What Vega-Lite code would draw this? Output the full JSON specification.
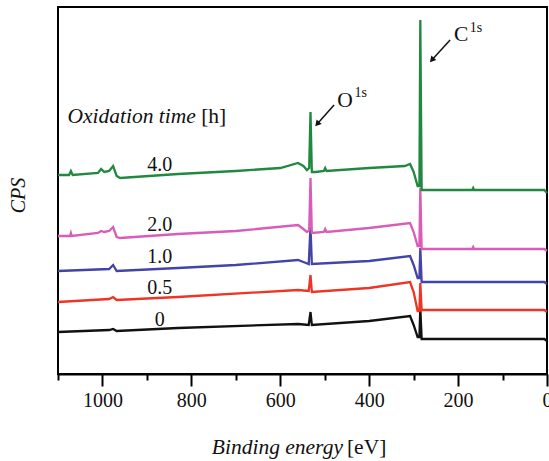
{
  "$schema": "https://vega.github.io/schema/vega-lite/v6.json",
  "autosize": "none",
  "width": 489,
  "height": 367,
  "padding": {"left": 58, "top": 7, "right": 2, "bottom": 87},
  "config": {
    "view": {"stroke": "black", "strokeWidth": 2},
    "text": {"font": "Liberation Serif", "fontSize": 20, "color": "#111"}
  },
  "datasets": {
    "spectra": [
      {"t": "0", "e": 1100, "c": 42}, {"t": "0", "e": 985, "c": 44}, {"t": "0", "e": 976, "c": 45}, {"t": "0", "e": 968, "c": 43}, {"t": "0", "e": 830, "c": 46}, {"t": "0", "e": 560, "c": 50}, {"t": "0", "e": 536, "c": 49}, {"t": "0", "e": 532, "c": 62}, {"t": "0", "e": 529, "c": 49}, {"t": "0", "e": 400, "c": 53}, {"t": "0", "e": 308, "c": 58}, {"t": "0", "e": 300, "c": 49}, {"t": "0", "e": 291, "c": 37}, {"t": "0", "e": 287, "c": 37}, {"t": "0", "e": 285, "c": 66}, {"t": "0", "e": 282, "c": 35}, {"t": "0", "e": 6, "c": 35}, {"t": "0", "e": 0, "c": 33},
      {"t": "0.5", "e": 1100, "c": 72}, {"t": "0.5", "e": 985, "c": 75}, {"t": "0.5", "e": 976, "c": 77}, {"t": "0.5", "e": 968, "c": 74}, {"t": "0.5", "e": 830, "c": 77}, {"t": "0.5", "e": 560, "c": 84}, {"t": "0.5", "e": 536, "c": 83}, {"t": "0.5", "e": 532, "c": 99}, {"t": "0.5", "e": 529, "c": 82}, {"t": "0.5", "e": 400, "c": 86}, {"t": "0.5", "e": 308, "c": 92}, {"t": "0.5", "e": 300, "c": 82}, {"t": "0.5", "e": 291, "c": 63}, {"t": "0.5", "e": 287, "c": 63}, {"t": "0.5", "e": 285, "c": 91}, {"t": "0.5", "e": 282, "c": 64}, {"t": "0.5", "e": 6, "c": 64}, {"t": "0.5", "e": 0, "c": 62},
      {"t": "1.0", "e": 1100, "c": 103}, {"t": "1.0", "e": 985, "c": 105}, {"t": "1.0", "e": 976, "c": 109}, {"t": "1.0", "e": 968, "c": 103}, {"t": "1.0", "e": 830, "c": 106}, {"t": "1.0", "e": 700, "c": 109}, {"t": "1.0", "e": 560, "c": 114}, {"t": "1.0", "e": 548, "c": 112}, {"t": "1.0", "e": 536, "c": 110}, {"t": "1.0", "e": 532, "c": 147}, {"t": "1.0", "e": 529, "c": 110}, {"t": "1.0", "e": 400, "c": 113}, {"t": "1.0", "e": 308, "c": 118}, {"t": "1.0", "e": 300, "c": 109}, {"t": "1.0", "e": 291, "c": 96}, {"t": "1.0", "e": 287, "c": 96}, {"t": "1.0", "e": 285, "c": 126}, {"t": "1.0", "e": 282, "c": 92}, {"t": "1.0", "e": 6, "c": 92}, {"t": "1.0", "e": 0, "c": 90},
      {"t": "2.0", "e": 1100, "c": 138}, {"t": "2.0", "e": 1073, "c": 138}, {"t": "2.0", "e": 1071, "c": 141}, {"t": "2.0", "e": 1069, "c": 138}, {"t": "2.0", "e": 1010, "c": 141}, {"t": "2.0", "e": 1003, "c": 143}, {"t": "2.0", "e": 996, "c": 142}, {"t": "2.0", "e": 985, "c": 143}, {"t": "2.0", "e": 976, "c": 147}, {"t": "2.0", "e": 968, "c": 137}, {"t": "2.0", "e": 960, "c": 136}, {"t": "2.0", "e": 830, "c": 140}, {"t": "2.0", "e": 700, "c": 143}, {"t": "2.0", "e": 560, "c": 149}, {"t": "2.0", "e": 548, "c": 145}, {"t": "2.0", "e": 540, "c": 142}, {"t": "2.0", "e": 535, "c": 144}, {"t": "2.0", "e": 532, "c": 196}, {"t": "2.0", "e": 529, "c": 141}, {"t": "2.0", "e": 502, "c": 142}, {"t": "2.0", "e": 499, "c": 145}, {"t": "2.0", "e": 496, "c": 142}, {"t": "2.0", "e": 400, "c": 146}, {"t": "2.0", "e": 308, "c": 151}, {"t": "2.0", "e": 300, "c": 142}, {"t": "2.0", "e": 291, "c": 128}, {"t": "2.0", "e": 287, "c": 128}, {"t": "2.0", "e": 285, "c": 186}, {"t": "2.0", "e": 282, "c": 125}, {"t": "2.0", "e": 200, "c": 125}, {"t": "2.0", "e": 168, "c": 125}, {"t": "2.0", "e": 166, "c": 127}, {"t": "2.0", "e": 164, "c": 125}, {"t": "2.0", "e": 6, "c": 125}, {"t": "2.0", "e": 0, "c": 123},
      {"t": "4.0", "e": 1100, "c": 199}, {"t": "4.0", "e": 1075, "c": 199}, {"t": "4.0", "e": 1071, "c": 203}, {"t": "4.0", "e": 1067, "c": 199}, {"t": "4.0", "e": 1010, "c": 201}, {"t": "4.0", "e": 1003, "c": 205}, {"t": "4.0", "e": 996, "c": 202}, {"t": "4.0", "e": 985, "c": 203}, {"t": "4.0", "e": 976, "c": 208}, {"t": "4.0", "e": 968, "c": 198}, {"t": "4.0", "e": 960, "c": 196}, {"t": "4.0", "e": 830, "c": 200}, {"t": "4.0", "e": 700, "c": 203}, {"t": "4.0", "e": 600, "c": 206}, {"t": "4.0", "e": 560, "c": 211}, {"t": "4.0", "e": 548, "c": 208}, {"t": "4.0", "e": 540, "c": 204}, {"t": "4.0", "e": 535, "c": 206}, {"t": "4.0", "e": 532, "c": 262}, {"t": "4.0", "e": 529, "c": 202}, {"t": "4.0", "e": 520, "c": 202}, {"t": "4.0", "e": 502, "c": 203}, {"t": "4.0", "e": 499, "c": 206}, {"t": "4.0", "e": 496, "c": 203}, {"t": "4.0", "e": 400, "c": 206}, {"t": "4.0", "e": 320, "c": 208}, {"t": "4.0", "e": 308, "c": 210}, {"t": "4.0", "e": 300, "c": 202}, {"t": "4.0", "e": 291, "c": 188}, {"t": "4.0", "e": 287, "c": 188}, {"t": "4.0", "e": 285, "c": 354}, {"t": "4.0", "e": 282, "c": 184}, {"t": "4.0", "e": 200, "c": 184}, {"t": "4.0", "e": 168, "c": 184}, {"t": "4.0", "e": 166, "c": 186}, {"t": "4.0", "e": 164, "c": 184}, {"t": "4.0", "e": 20, "c": 184}, {"t": "4.0", "e": 6, "c": 184}, {"t": "4.0", "e": 0, "c": 181}
    ],
    "labels": [
      {"lab": "4.0", "e": 871, "c": 209},
      {"lab": "2.0", "e": 871, "c": 149},
      {"lab": "1.0", "e": 871, "c": 117},
      {"lab": "0.5", "e": 871, "c": 86},
      {"lab": "0", "e": 871, "c": 54}
    ],
    "italicText": [
      {"txt": "Oxidation time", "e": 790, "c": 257},
      {"txt": "Binding energy", "e": 459, "c": -74}
    ],
    "plainText": [
      {"txt": "[h]", "e": 778, "c": 257},
      {"txt": "[eV]", "e": 450, "c": -74},
      {"txt": "O", "e": 472, "c": 273},
      {"txt": "C", "e": 209, "c": 339}
    ],
    "supText": [
      {"txt": "1s", "e": 433, "c": 281},
      {"txt": "1s", "e": 174, "c": 346}
    ],
    "arrows": [
      {"e": 479, "c": 269, "e2": 517, "c2": 250},
      {"e": 218, "c": 334, "e2": 259, "c2": 314}
    ]
  },
  "layer": [
    {
      "data": {"name": "spectra"},
      "mark": {"type": "line", "strokeWidth": 2.3, "interpolate": "linear"},
      "encoding": {
        "x": {
          "field": "e", "type": "quantitative",
          "scale": {"domain": [0, 1100], "reverse": true, "nice": false, "zero": false},
          "axis": {
            "title": null,
            "values": [1100, 1000, 900, 800, 700, 600, 500, 400, 300, 200, 100, 0],
            "format": "d",
            "labelExpr": "datum.value % 200 == 0 ? datum.label : ''",
            "tickSize": {"condition": {"test": "datum.value % 200 == 0", "value": 12}, "value": 6},
            "tickWidth": 2,
            "tickColor": "black",
            "domainColor": "black",
            "domainWidth": 2,
            "grid": false,
            "labelFont": "Liberation Serif",
            "labelFontSize": 20,
            "labelColor": "#111",
            "labelPadding": 4,
            "labelFlush": false,
            "labelOverlap": false
          }
        },
        "y": {
          "field": "c", "type": "quantitative",
          "scale": {"domain": [0, 367], "nice": false, "zero": false},
          "axis": {
            "title": "CPS",
            "labels": false, "ticks": false, "grid": false, "domain": false,
            "titleFont": "Liberation Serif", "titleFontStyle": "italic", "titleFontWeight": "normal",
            "titleFontSize": 20, "titleColor": "#111",
            "titleBaseline": "middle", "titleAlign": "center",
            "titleX": -40, "titleY": 188, "titleAngle": -90
          }
        },
        "color": {
          "field": "t", "type": "nominal",
          "scale": {"domain": ["0", "0.5", "1.0", "2.0", "4.0"], "range": ["#111111", "#ee3524", "#4343a8", "#d95cb8", "#21893f"]},
          "legend": null
        },
        "order": {"field": "e", "sort": "descending"}
      }
    },
    {
      "data": {"name": "labels"},
      "mark": {"type": "text", "align": "center", "baseline": "middle"},
      "encoding": {
        "x": {"field": "e", "type": "quantitative"},
        "y": {"field": "c", "type": "quantitative"},
        "text": {"field": "lab"}
      }
    },
    {
      "data": {"name": "italicText"},
      "mark": {"type": "text", "align": "right", "baseline": "middle", "fontStyle": "italic", "fontSize": 21.5},
      "encoding": {
        "x": {"field": "e", "type": "quantitative"},
        "y": {"field": "c", "type": "quantitative"},
        "text": {"field": "txt"}
      }
    },
    {
      "data": {"name": "plainText"},
      "mark": {"type": "text", "align": "left", "baseline": "middle", "fontSize": 21.5},
      "encoding": {
        "x": {"field": "e", "type": "quantitative"},
        "y": {"field": "c", "type": "quantitative"},
        "text": {"field": "txt"}
      }
    },
    {
      "data": {"name": "supText"},
      "mark": {"type": "text", "align": "left", "baseline": "middle", "fontSize": 14},
      "encoding": {
        "x": {"field": "e", "type": "quantitative"},
        "y": {"field": "c", "type": "quantitative"},
        "text": {"field": "txt"}
      }
    },
    {
      "data": {"name": "arrows"},
      "mark": {"type": "rule", "strokeWidth": 1.5, "color": "#111"},
      "encoding": {
        "x": {"field": "e", "type": "quantitative"},
        "y": {"field": "c", "type": "quantitative"},
        "x2": {"field": "e2"},
        "y2": {"field": "c2"}
      }
    },
    {
      "data": {"name": "arrows"},
      "mark": {"type": "point", "shape": "triangle-up", "filled": true, "color": "#111", "size": 45, "angle": 222, "opacity": 1},
      "encoding": {
        "x": {"field": "e2", "type": "quantitative"},
        "y": {"field": "c2", "type": "quantitative"}
      }
    }
  ]
}
